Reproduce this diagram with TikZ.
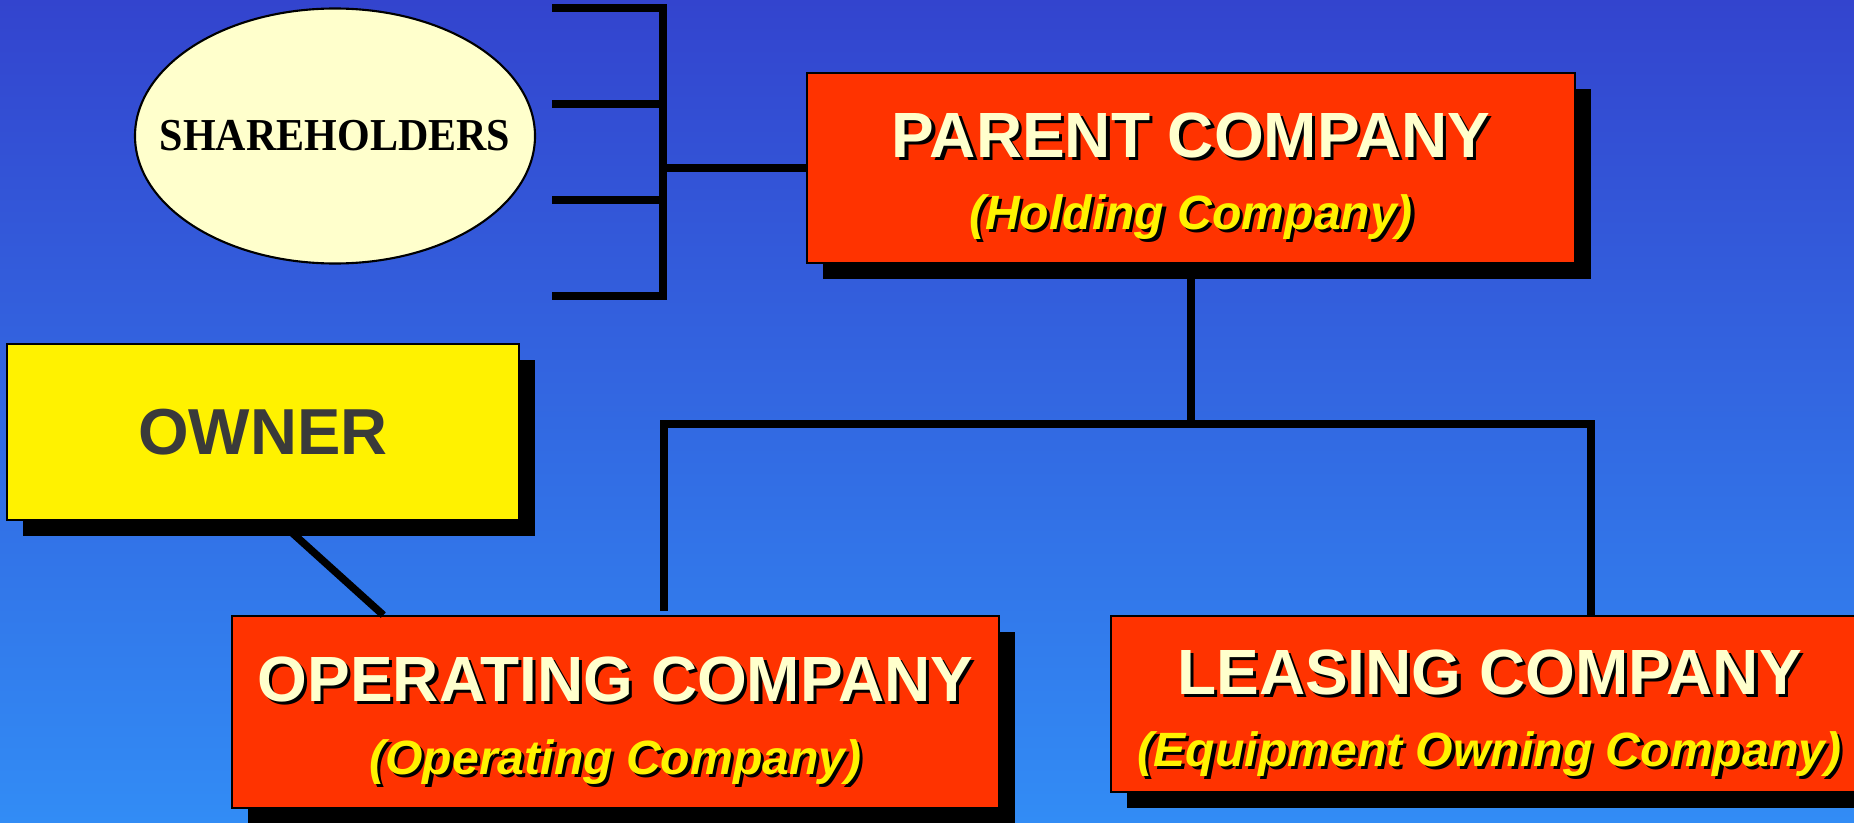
\documentclass[tikz,border=0pt]{standalone}
\usepackage{fontspec}
\setmainfont{Liberation Sans}
\newfontfamily\romanhead{Liberation Serif}
\usepackage{tikz}
\usetikzlibrary{
  shapes.geometric
  , calc
  , shadows
}

\definecolor{bgtop}{HTML}{3344CE}
\definecolor{bgbot}{HTML}{328CF5}
\definecolor{boxred}{HTML}{FF3300}
\definecolor{cream}{HTML}{FFFFCC}
\definecolor{ownergray}{HTML}{3A3A3A}

% text with a small black drop shadow
\newcommand\shad[2]{\makebox[0pt][l]{\hspace{0.9pt}\raisebox{-0.9pt}{\color{black}#2}}\textcolor{#1}{#2}}

\tikzset{
  link/.style={line width=0.075cm, black},
  shadowbox/.style={draw=black, line width=0.5pt, rectangle, inner sep=0pt,
    drop shadow={shadow xshift=0.16cm, shadow yshift=-0.16cm, opacity=1, fill=black}},
  redbox/.style={shadowbox, fill=boxred},
  head/.style={anchor=base, inner sep=0pt, font=\fontsize{18.2}{20}\selectfont\bfseries},
  sub/.style={anchor=base, inner sep=0pt, font=\fontsize{13.7}{16}\selectfont\bfseries\itshape},
}

\begin{document}
\begin{tikzpicture}
  \useasboundingbox (0,0) rectangle (18.54,8.22);
  \shade[top color=bgtop, bottom color=bgbot] (0,0) rectangle (18.54,8.22);

  \node [draw,
    ellipse,
    line width=0.6pt,
    fill=cream,
    inner sep=0pt,
    minimum width=4cm,
    minimum height=2.55cm,
  ] (share) at (3.35, 6.86){};
  \node [font=\romanhead\bfseries\fontsize{13}{14}\selectfont, inner sep=0pt]
    (share-t) at (share.center){\scalebox{0.92}[1]{SHAREHOLDERS}};

  \node [redbox, minimum width=7.68cm, minimum height=1.9cm] (parent) at (11.91, 6.54){};
  \node [head] (parent-h) at ($ (parent.north)+(0,-0.85) $) {\shad{cream}{PARENT COMPANY}};
  \node [sub] (parent-s) at ($ (parent.north)+(0,-1.57) $) {\shad{yellow}{(Holding Company)}};

  \node [shadowbox, fill=yellow, minimum width=5.12cm, minimum height=1.76cm,
    text=ownergray, font=\fontsize{18.5}{20}\selectfont\bfseries] (owner) at (2.63, 3.90){OWNER};

  \node [redbox, minimum width=7.67cm, minimum height=1.92cm] (opco) at (6.155, 1.10){};
  \node [head] (opco-h) at ($ (opco.north)+(0,-0.86) $) {\shad{cream}{OPERATING COMPANY}};
  \node [sub] (opco-s) at ($ (opco.north)+(0,-1.59) $) {\shad{yellow}{(Operating Company)}};

  \node [redbox, minimum width=7.57cm, minimum height=1.76cm] (lease) at (14.895, 1.18){};
  \node [head] (lease-h) at ($ (lease.north)+(0,-0.79) $) {\shad{cream}{LEASING COMPANY}};
  \node [sub] (lease-s) at ($ (lease.north)+(0,-1.51) $) {\shad{yellow}{(Equipment Owning Company)}};

  % shareholders bracket
  \draw[link] (5.52,8.14) coordinate (top) -| (6.63,5.26) -- (5.52,5.26) coordinate (bottom);
  \foreach \y in {7.18, 6.22}
    \draw[link] (5.52,\y) -- (6.63,\y);
  \draw[link] (parent.west) -- (parent.west -| 6.63,0);

  % parent down to the two companies
  \coordinate (fork) at (parent.south |- 0,3.98);
  \draw[link] (parent.south) -- (fork);
  \draw[link] (6.64,2.11) coordinate (opco-end) |- (fork)
    -| ($ (lease.north west)!.634!(lease.north east) $) coordinate (lease-end);

  % owner to operating company, starting under the shadow
  \draw[link, shorten <=3pt] ($ (owner.south west)!.531!(owner.south east) $) -- ($ (opco.north west)!.198!(opco.north east) $);
\end{tikzpicture}
\end{document}
